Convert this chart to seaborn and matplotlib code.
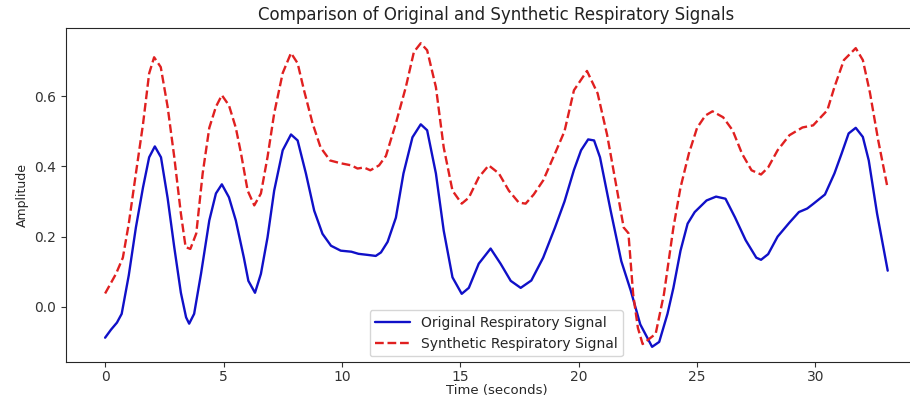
import matplotlib
matplotlib.use('Agg')
import matplotlib.pyplot as plt
import seaborn as sns

# Original respiratory signal
t_orig = [0.0, 0.25, 0.5, 0.7, 1.0, 1.3, 1.6, 1.86, 2.1, 2.36, 2.64, 2.92, 3.2, 3.42, 3.55,
          3.76, 4.05, 4.4, 4.68, 4.93, 5.23, 5.52, 5.86, 6.05, 6.33, 6.58, 6.86, 7.14, 7.5,
          7.85, 8.13, 8.48, 8.83, 9.18, 9.54, 9.95, 10.4, 10.7, 11.08, 11.43, 11.65, 11.93,
          12.28, 12.6, 12.98, 13.33, 13.6, 13.97, 14.3, 14.67, 15.06, 15.36, 15.78, 16.28,
          16.7, 17.13, 17.55, 18.0, 18.5, 19.0, 19.4, 19.8, 20.1, 20.4, 20.65, 20.9, 21.35,
          21.8, 22.2, 22.6, 23.1, 23.4, 23.75, 24.0, 24.3, 24.6, 24.9, 25.4, 25.8, 26.2,
          26.6, 27.05, 27.5, 27.7, 28.0, 28.4, 28.9, 29.3, 29.65, 29.9, 30.4, 30.8, 31.1,
          31.4, 31.7, 32.0, 32.25, 32.6, 33.05]
v_orig = [-0.088, -0.065, -0.045, -0.02, 0.09, 0.226, 0.34, 0.426, 0.457, 0.426, 0.31, 0.17,
          0.04, -0.03, -0.048, -0.02, 0.094, 0.246, 0.323, 0.349, 0.312, 0.246, 0.14, 0.074,
          0.04, 0.094, 0.198, 0.331, 0.446, 0.491, 0.474, 0.38, 0.274, 0.208, 0.174, 0.16,
          0.157, 0.151, 0.148, 0.145, 0.155, 0.185, 0.254, 0.38, 0.483, 0.52, 0.503, 0.38,
          0.217, 0.084, 0.037, 0.054, 0.123, 0.166, 0.123, 0.074, 0.054, 0.075, 0.14, 0.226,
          0.30, 0.39, 0.446, 0.477, 0.474, 0.426, 0.274, 0.13, 0.046, -0.05, -0.114, -0.10,
          -0.02, 0.054, 0.16, 0.237, 0.27, 0.303, 0.314, 0.308, 0.255, 0.19, 0.14, 0.134,
          0.15, 0.2, 0.24, 0.27, 0.28, 0.293, 0.32, 0.38, 0.436, 0.494, 0.51, 0.484, 0.417,
          0.266, 0.103]

# Synthetic respiratory signal
t_syn = [0.0, 0.46, 0.75, 1.0, 1.3, 1.6, 1.86, 2.07, 2.35, 2.64, 2.92, 3.2, 3.4, 3.6, 3.85,
         4.12, 4.4, 4.68, 4.93, 5.23, 5.52, 5.74, 6.02, 6.3, 6.58, 6.86, 7.14, 7.5, 7.85,
         8.13, 8.4, 8.76, 9.1, 9.5, 9.95, 10.4, 10.66, 10.93, 11.2, 11.57, 11.86, 12.28,
         12.7, 13.04, 13.33, 13.6, 13.97, 14.3, 14.67, 15.06, 15.36, 15.78, 16.2, 16.63,
         17.05, 17.47, 17.76, 18.1, 18.5, 19.0, 19.4, 19.8, 20.35, 20.8, 21.2, 21.6, 21.9,
         22.1, 22.3, 22.5, 22.7, 23.25, 23.6, 24.0, 24.3, 24.65, 25.0, 25.35, 25.65, 26.1,
         26.5, 26.9, 27.3, 27.7, 28.0, 28.4, 28.9, 29.45, 29.9, 30.5, 30.8, 31.2, 31.7,
         32.0, 32.3, 32.65, 33.05]
v_syn = [0.038, 0.094, 0.14, 0.237, 0.38, 0.52, 0.665, 0.711, 0.683, 0.57, 0.427, 0.266,
         0.17, 0.165, 0.209, 0.38, 0.51, 0.57, 0.603, 0.574, 0.51, 0.437, 0.331, 0.289,
         0.323, 0.427, 0.551, 0.666, 0.723, 0.694, 0.617, 0.523, 0.454, 0.417, 0.409, 0.403,
         0.394, 0.397, 0.389, 0.403, 0.43, 0.523, 0.626, 0.726, 0.751, 0.731, 0.626, 0.454,
         0.331, 0.294, 0.311, 0.369, 0.403, 0.38, 0.331, 0.297, 0.294, 0.32, 0.36, 0.437,
         0.5, 0.617, 0.672, 0.608, 0.49, 0.34, 0.226, 0.21, 0.036, -0.06, -0.106, -0.077,
         0.036, 0.226, 0.34, 0.436, 0.51, 0.545, 0.557, 0.54, 0.503, 0.436, 0.389, 0.377,
         0.397, 0.446, 0.489, 0.511, 0.517, 0.56, 0.626, 0.703, 0.737, 0.703, 0.61, 0.474,
         0.337]

sns.set_style("ticks")

fig = plt.figure(figsize=(9.1, 3.99), dpi=100)
# axes run slightly past the right edge, as in the (cropped) reference
ax = fig.add_axes([0.0725, 0.0927, 0.946, 0.837])

sns.lineplot(x=t_orig, y=v_orig, color='#1010c8', linewidth=1.7,
             label='Original Respiratory Signal', ax=ax)
sns.lineplot(x=t_syn, y=v_syn, color='#e02020', linewidth=1.7, linestyle='--',
             label='Synthetic Respiratory Signal', ax=ax)

ax.set_xticks([0, 5, 10, 15, 20, 25, 30])
ax.set_yticks([0.0, 0.2, 0.4, 0.6])
ax.tick_params(labelsize=10, colors='#333333')
ax.tick_params(axis='x', pad=2.5)
ax.set_title('Comparison of Original and Synthetic Respiratory Signals', fontsize=12, color='#222222')
ax.set_xlabel('Time (seconds)', fontsize=9.5, labelpad=0)
ax.set_ylabel('Amplitude', fontsize=9)
ax.legend(loc='lower center', fontsize=10, handlelength=2.5, borderaxespad=0.4)

plt.savefig('out.png', dpi=100)
plt.close()
